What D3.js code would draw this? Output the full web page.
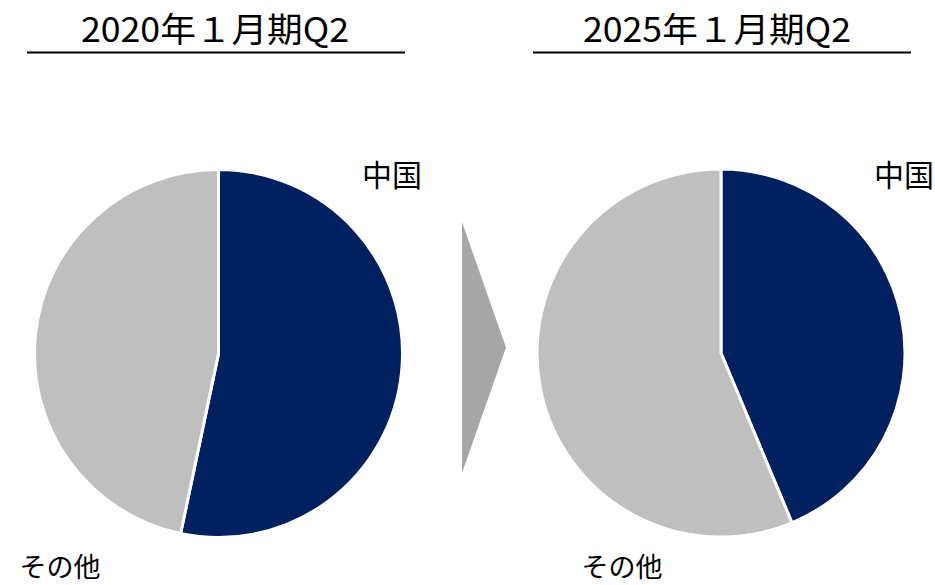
<!DOCTYPE html>
<html>
<head>
<meta charset="utf-8">
<script src="https://cdn.jsdelivr.net/npm/d3@7"></script>
<style>
  html, body { margin: 0; padding: 0; background: #fff; }
  svg text { font-family: "Noto Sans CJK JP", "Noto Sans", sans-serif; fill: #000; }
</style>
</head>
<body>
<svg id="chart" width="935" height="585"></svg>
<script>
// Share of sales by region, two periods
const periods = ["2020年１月期Q2", "2025年１月期Q2"];
const categories = ["中国", "その他"];
const share2020 = [53.3, 46.7];
const share2025 = [43.7, 56.3];
const seriesValues = [share2020, share2025];

const colors = d3.scaleOrdinal().domain(categories).range(["#002060", "#bfbfbf"]);
const labelSize = { "中国": 30, "その他": 27 };

const svg = d3.select("#chart");

const panels = [
  { cx: 218.5, cy: 353.5, title: { x: 215, y: 42 }, rule: [27, 405],
    labels: { "中国": [392, 186], "その他": [60, 577] } },
  { cx: 721, cy: 353, title: { x: 717, y: 42 }, rule: [533, 911],
    labels: { "中国": [904, 186], "その他": [622, 577] } }
];
const radius = 184;

const pie = d3.pie().sort(null).value(d => d.value);
const arc = d3.arc().innerRadius(0).outerRadius(radius);

panels.forEach((p, i) => {
  const data = categories.map((c, j) => ({ name: c, value: seriesValues[i][j] }));

  // period heading with underline
  svg.append("text")
    .attr("x", p.title.x).attr("y", p.title.y)
    .attr("text-anchor", "middle")
    .attr("font-size", 34)
    .attr("textLength", 268)
    .attr("lengthAdjust", "spacingAndGlyphs")
    .text(periods[i]);
  svg.append("line")
    .attr("x1", p.rule[0]).attr("x2", p.rule[1])
    .attr("y1", 52.5).attr("y2", 52.5)
    .attr("stroke", "#000").attr("stroke-width", 2);

  const g = svg.append("g").attr("transform", `translate(${p.cx},${p.cy})`);
  g.selectAll("path")
    .data(pie(data))
    .join("path")
    .attr("d", arc)
    .attr("fill", d => colors(d.data.name))
    .attr("stroke", "#fff")
    .attr("stroke-width", 3)
    .attr("stroke-linejoin", "miter");

  categories.forEach(c => {
    svg.append("text")
      .attr("x", p.labels[c][0]).attr("y", p.labels[c][1])
      .attr("text-anchor", "middle")
      .attr("font-size", labelSize[c])
      .text(c);
  });
});

// transition arrow between the two periods
svg.append("path")
  .attr("d", d3.line()([[462, 222], [506, 347.5], [462, 473]]) + "Z")
  .attr("fill", "#a6a6a6");
</script>
</body>
</html>
